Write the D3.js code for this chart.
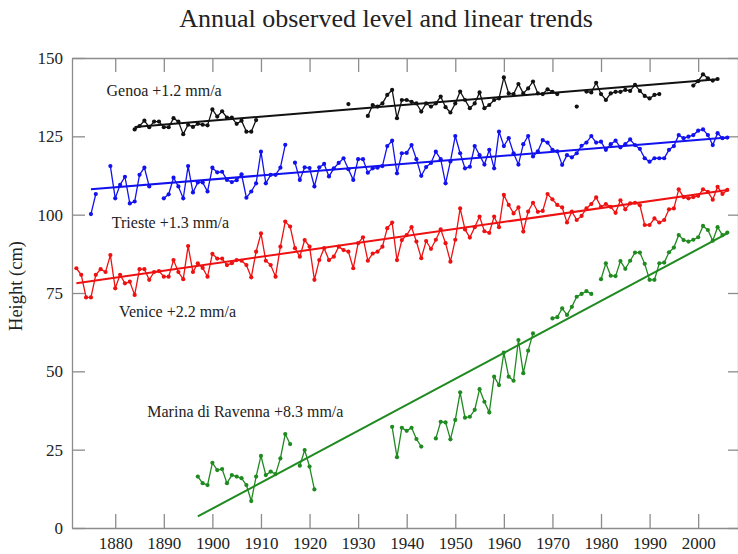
<!DOCTYPE html>
<html>
<head>
<meta charset="utf-8">
<script src="https://cdn.jsdelivr.net/npm/d3@7"></script>
<style>
    body { margin: 0; background: #fff; }
    svg { display: block; font-family: "Liberation Serif", "Times New Roman", serif; }
    .axis path, .axis line { stroke: #8c8c8c; stroke-width: 1.3; }
    .axis text { fill: #222; font-size: 17px; font-family: "Liberation Serif", serif; }
</style>
</head>
<body>
<svg width="738" height="554"></svg>
<script>
// yearly mean sea level (cm), null = no record
const GENOA_START = 1884;
const genoaValues = [
    127.2, 128.3, 130, 127.9, 129.7, 129.7, 127.9, 127.9, 130.8, 129.7,
    125.7, 128.7, 128, 129, 128.7, 128.5, 133.6, 131.3, 133, 131,
    131, 129, 130, 126.5, 126.5, 130.2,
    null, null, null, null, null, null, null, null, null, null,
    null, null, null, null, null, null, null, null,
    135.3, null, null, null,
    131.5, 135, 134.5, 135.5, 138.2, 139.8, 130.8, 136.6, 136.6, 136,
    135.5, 132.9, 135.5, 134.5, 135.5, 137.7, 134.3, 132.6, 135.5, 139.3,
    136.6, 134, 135.5, 139, 134, 135, 136.6, 137.1, 143.8, 138.7,
    138.5, 141.7, 138.7, 140.3, 142.5, 138.7, 138.5, 140, 139.2, 138.5,
    null, null, null, 134.5, null,
    139.3, 139, 142.1, 138.5, 136.6, 138.7, 139.2, 139.2, 139.8, 139.5,
    141.4, 139.5, 137.9, 137.1, 138.2, 138.5,
    null, null, null, null, null, null,
    141.2, 142.6, 144.8, 143.5, 142.8, 143.3
];

const TRIESTE_START = 1875;
const triesteValues = [
    100.2, 106.6, null, null, 115.5, 105.2, 109.5, 112.1, 103.6, 104.2,
    112.7, 115, 109, null, null, 105.2, 106.5, 111.8, 109, 105.2,
    115.5, 107.1, 110.3, 110.3, 107.4, 115, 113.5, 113.7, 111.1, 110.4,
    111, 112.9, 105.4, 107.4, 110, 120.1, 110, 112.7, 112.7, 115,
    122.3, null, 116.6, 111.1, 115.1, 114.9, 109, 115.1, 116.2, 112.2,
    114.8, 116.5, 118, 114.5, 111.1, 117.7, 117.7, 113.4, 114.8, 115,
    115.5, 121.9, 123.6, 113.2, 119.6, 119.7, 122.2, 117.7, 112.4, 115.2,
    116.5, 120.1, 117.7, 110, 117, 125.1, 119.6, 114.8, 115.3, 121.9,
    119, 116, 120.7, 114.8, 126.5, 121.9, 124.4, 119.6, 116, 122.5,
    125.1, 118.6, 120.2, 123.8, 123, 120.7, 120.2, 115.9, 119, 118.3,
    119.6, 122, 123, 125.1, 123, 123.3, 120.7, 122.5, 123.6, 121.5,
    122.5, 124, 122.2, 121, 118, 116.9, 118, 118, 118, 120.7,
    121.9, 125.4, 124.4, 124.9, 125.4, 126.8, 127.2, 125.4, 122.2, 126,
    124.4, 124.6
];

const VENICE_START = 1872;
const veniceValues = [
    82.9, 80.8, 73.6, 73.6, 80.8, 82.6, 81.7, 87.1, 76.5, 80.8,
    78.1, 78.6, 74.4, 82.6, 82.6, 79.2, 81.7, 82, 80.2, 80.2,
    85.5, 81.7, 79.4, 90, 81.7, 84.5, 83, 80.2, 87.5, 86,
    86, 83.9, 84.5, 85.5, 85.3, 83.9, 80, 88.2, 94, 85.3,
    83.9, 80.2, 89.8, 97.8, 96.2, 89.3, 86.6, 91.9, 89.8, 79.2,
    85.5, 89.3, 85.5, 86.6, 89.8, 88.7, 88.2, 82.9, 90.9, 92.8,
    85.3, 87.6, 88.2, 89.8, 95.7, 97.5, 85.5, 91.9, 93.5, 96,
    91.4, 86.1, 91.6, 89.1, 92, 95.3, 90.9, 85, 92, 102,
    95.3, 92.7, 96, 99.4, 94.7, 94.2, 99.4, 96, 106.3, 103.1,
    100.4, 102.3, 94.6, 101, 103.8, 100.9, 101.2, 106.6, 104.9, 103.1,
    102.3, 97.5, 101, 98.3, 99.6, 102, 103.4, 105.5, 102.5, 103.4,
    102.5, 100.6, 104.6, 101.7, 103.6, 103.8, 103, 96.7, 96.7, 98.8,
    97.5, 98.3, 101.7, 102, 108.1, 105.6, 105.2, 105.6, 106, 108.1,
    107.3, 104.8, 108.9, 106.6, 107.9
];

const RAVENNA_START = 1897;
const ravennaValues = [
    16.4, 14.3, 13.7, 20.8, 18.5, 18.8, 14.3, 16.9, 16.4, 15.9,
    13.7, 8.6, 16.4, 23, 16.9, 18, 17.2, 22.2, 30, 26.8,
    null, 19.9, 24.9, 19.6, 12.3,
    null, null, null, null, null, null, null, null, null, null,
    null, null, null, null, null,
    32.3, 22.6, 32, 31, 32, 28.4, 26, null, null,
    28.6, 33.9, 33.7, 28.3, 34.5, 43.3, 35.2, 35.5, 37.7, 44.3,
    40.3, 36.9, 48.3, 45.6, 56, 48.3, 47, 60, 49.4, 56.6,
    62.1, null, null, null,
    66.9, 67.3, 70.1, 68, 70.6, 73.8, 74.7, 75.6, 74.7, null,
    79.4, 84.5, 80.5, 80.4, 85.2, 82.7, 85.3, 87.9, 87.9, 84.3,
    79.2, 79.2, 84.5, 84.7, 88, 89.5, 93.5, 91.9, 91.4, 92,
    92.8, 96.4, 95.1, 91.7, 96, 93.5, 94.3
];

// linear trends, [year, cm] at both ends
const genoaTrend = [[1884, 128], [2004, 143.2]];
const triesteTrend = [[1875, 108.1], [2006, 124.6]];
const veniceTrend = [[1872, 78.1], [2006, 107.9]];
const ravennaTrend = [[1897, 3.7], [2006, 94]];

const SERIES_NAMES = ['Genoa', 'Trieste', 'Venice', 'Marina di Ravenna'];
const SERIES_RATES = ['+1.2 mm/a', '+1.3 mm/a', '+2.2 mm/a', '+8.3 mm/a'];
// label anchor (year, cm) of the text baseline start
const LABEL_YEARS = [1878.2, 1879.3, 1880.8, 1886.6];
const LABEL_LEVELS = [138, 95.9, 67.3, 35.4];

const X_TICKS = [1880, 1890, 1900, 1910, 1920, 1930, 1940, 1950, 1960, 1970, 1980, 1990, 2000];
const Y_TICKS = [0, 25, 50, 75, 100, 125, 150];
const COLORS = ['#111111', '#1212ee', '#ee1111', '#1f8a1f'];

const PLOT = { left: 72, right: 738, top: 58, bottom: 528 };

const x = d3.scaleLinear().domain([1871.1, 2008.2]).range([PLOT.left, PLOT.right]);
const y = d3.scaleLinear().domain([0, 150]).range([PLOT.bottom, PLOT.top]);

const svg = d3.select('svg');

svg.append('text')
    .attr('x', 386)
    .attr('y', 27)
    .attr('text-anchor', 'middle')
    .style('font-size', '26px')
    .attr('fill', '#222')
    .text('Annual observed level and linear trends');

svg.append('text')
    .attr('transform', 'translate(22, 286) rotate(-90)')
    .attr('text-anchor', 'middle')
    .style('font-size', '18.5px')
    .attr('fill', '#222')
    .text('Height (cm)');

// frame: ticks point into the plot on all four sides
svg.append('g').attr('class', 'axis')
    .attr('transform', `translate(0, ${PLOT.bottom})`)
    .call(d3.axisBottom(x).tickValues(X_TICKS).tickFormat(d3.format('d'))
        .tickSizeInner(-14).tickSizeOuter(0).tickPadding(9));
svg.append('g').attr('class', 'axis')
    .attr('transform', `translate(0, ${PLOT.top})`)
    .call(d3.axisTop(x).tickValues(X_TICKS).tickFormat('')
        .tickSizeInner(-14).tickSizeOuter(0));
svg.append('g').attr('class', 'axis')
    .attr('transform', `translate(${PLOT.left}, 0)`)
    .call(d3.axisLeft(y).tickValues(Y_TICKS)
        .tickSizeInner(-13).tickSizeOuter(0).tickPadding(9));
svg.append('g').attr('class', 'axis')
    .attr('transform', `translate(${PLOT.right}, 0)`)
    .call(d3.axisRight(y).tickValues(Y_TICKS).tickFormat('')
        .tickSizeInner(-10).tickSizeOuter(0));

const allSeries = [
    { start: GENOA_START, values: genoaValues, trend: genoaTrend },
    { start: TRIESTE_START, values: triesteValues, trend: triesteTrend },
    { start: VENICE_START, values: veniceValues, trend: veniceTrend },
    { start: RAVENNA_START, values: ravennaValues, trend: ravennaTrend },
];

const line = d3.line()
    .defined((d) => d.value !== null)
    .x((d) => x(d.year))
    .y((d) => y(d.value));

const trendLine = d3.line()
    .x((d) => x(d[0]))
    .y((d) => y(d[1]));

allSeries.forEach((s, i) => {
    const pts = s.values.map((v, k) => ({ year: s.start + k, value: v }));
    const g = svg.append('g');

    g.append('path')
        .datum(s.trend)
        .attr('d', trendLine)
        .attr('fill', 'none')
        .attr('stroke', COLORS[i])
        .attr('stroke-width', 2);

    g.append('path')
        .datum(pts)
        .attr('d', line)
        .attr('fill', 'none')
        .attr('stroke', COLORS[i])
        .attr('stroke-width', 1.3);

    g.selectAll('circle')
        .data(pts.filter((d) => d.value !== null))
        .enter()
        .append('circle')
        .attr('cx', (d) => x(d.year))
        .attr('cy', (d) => y(d.value))
        .attr('r', 2.1)
        .attr('fill', COLORS[i]);

    svg.append('text')
        .attr('x', x(LABEL_YEARS[i]))
        .attr('y', y(LABEL_LEVELS[i]))
        .style('font-size', '16px')
        .attr('fill', '#222')
        .text(`${SERIES_NAMES[i]} ${SERIES_RATES[i]}`);
});
</script>
</body>
</html>
